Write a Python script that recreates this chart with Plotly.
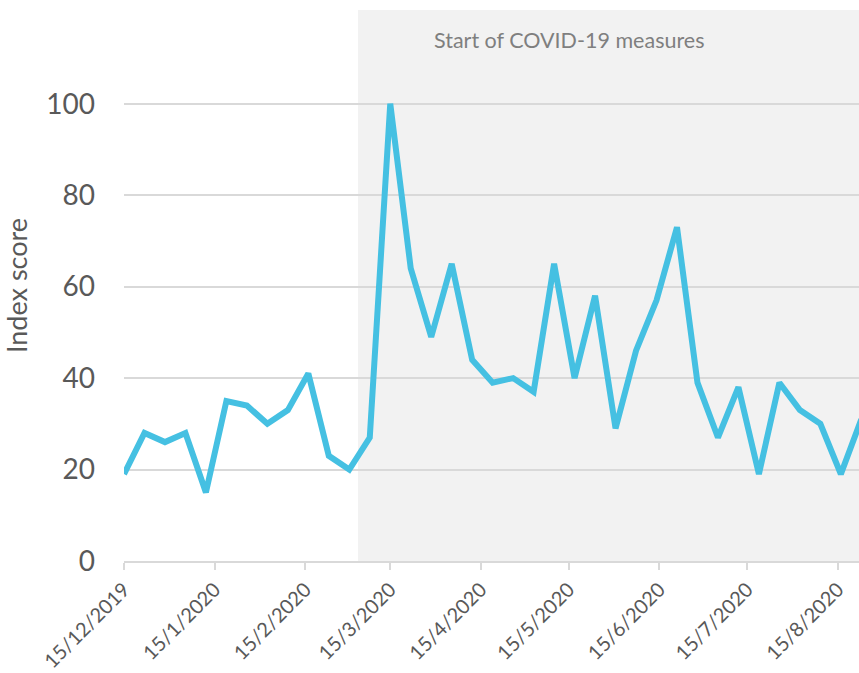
import plotly.graph_objects as go
import pandas as pd

start_date = "2019-12-15"
n_weeks = 37
dates = pd.date_range(start_date, periods=n_weeks, freq="7D")
values = [19, 28, 26, 28, 15, 35, 34, 30, 33, 41, 23, 20, 27, 100, 64, 49, 65, 44, 39, 40,
          37, 65, 40, 58, 29, 46, 57, 73, 39, 27, 38, 19, 39, 33, 30, 19, 31]

tick_dates = ["2019-12-15", "2020-01-15", "2020-02-15", "2020-03-15", "2020-04-15",
              "2020-05-15", "2020-06-15", "2020-07-15", "2020-08-15"]
tick_labels = ["15/12/2019", "15/1/2020", "15/2/2020", "15/3/2020", "15/4/2020",
               "15/5/2020", "15/6/2020", "15/7/2020", "15/8/2020"]
y_ticks = [0, 20, 40, 60, 80, 100]

covid_start = "2020-03-04"
x_end = "2020-08-22 05:00"
annotation_text = "Start of COVID-19 measures"

fig = go.Figure()
fig.add_shape(type="rect", xref="x", yref="y", x0=covid_start, x1=x_end, y0=0, y1=120.5,
              fillcolor="#f2f2f2", line_width=0, layer="below")
fig.add_trace(go.Scatter(x=dates, y=values, mode="lines",
                         line=dict(color="#45c0e2", width=6), showlegend=False))
fig.add_annotation(x="2020-05-15", y=114, xref="x", yref="y", text=annotation_text,
                   showarrow=False, font=dict(family="Lato, sans-serif", size=21.5, color="#7f7f7f"))

fig.update_layout(
    width=859, height=673,
    margin=dict(l=124, r=0, t=10, b=112, autoexpand=False),
    plot_bgcolor="white", paper_bgcolor="white",
    font=dict(family="Lato, sans-serif", color="#595959"),
)
fig.update_xaxes(
    type="date", range=[start_date, x_end], automargin=False,
    tickvals=tick_dates, ticktext=tick_labels, tickangle=-45,
    tickfont=dict(size=20, color="#595959"),
    showgrid=False, showline=True, linecolor="#d9d9d9", linewidth=2,
    ticks="outside", ticklen=7, tickcolor="#d9d9d9", tickwidth=2,
    zeroline=False,
)
fig.update_yaxes(
    range=[0, 120.5], tickvals=y_ticks, automargin=False,
    tickfont=dict(size=28, color="#595959"),
    showgrid=True, gridcolor="#d9d9d9", gridwidth=2,
    zeroline=False, showline=False, ticks="", ticklabelstandoff=28,
    title=dict(text="Index score", font=dict(size=27, color="#595959"), standoff=10),
)

# remove the page's default body margin so the 859x673 figure fills the window exactly
fig.write_html(
    "out.html",
    config={"displayModeBar": False},
    post_script="document.body.style.margin='0';document.body.style.overflow='hidden';",
)
